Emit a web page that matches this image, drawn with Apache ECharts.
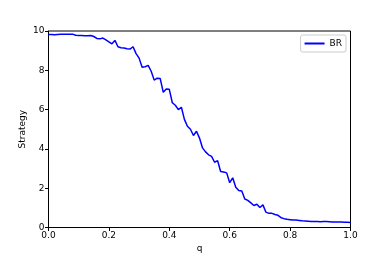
<!DOCTYPE html>
<html><head><meta charset="utf-8">
<script src="https://cdn.jsdelivr.net/npm/echarts@6/dist/echarts.min.js"></script>
<style>html,body{margin:0;padding:0;background:#fff}#c{width:390px;height:260px}</style>
</head><body><div id="c"></div>
<script>
const qValues = [0.00,0.01,0.02,0.03,0.04,0.05,0.06,0.07,0.08,0.09,0.10,0.11,0.12,0.13,0.14,0.15,0.16,0.17,0.18,0.19,0.20,0.21,0.22,0.23,0.24,0.25,0.26,0.27,0.28,0.29,0.30,0.31,0.32,0.33,0.34,0.35,0.36,0.37,0.38,0.39,0.40,0.41,0.42,0.43,0.44,0.45,0.46,0.47,0.48,0.49,0.50,0.51,0.52,0.53,0.54,0.55,0.56,0.57,0.58,0.59,0.60,0.61,0.62,0.63,0.64,0.65,0.66,0.67,0.68,0.69,0.70,0.71,0.72,0.73,0.74,0.75,0.76,0.77,0.78,0.79,0.80,0.81,0.82,0.83,0.84,0.85,0.86,0.87,0.88,0.89,0.90,0.91,0.92,0.93,0.94,0.95,0.96,0.97,0.98,0.99,1.00];
const brValues = [9.82,9.82,9.81,9.82,9.83,9.83,9.83,9.84,9.84,9.78,9.77,9.77,9.76,9.76,9.77,9.72,9.62,9.60,9.64,9.55,9.45,9.35,9.52,9.20,9.15,9.13,9.10,9.08,9.20,8.85,8.62,8.15,8.18,8.25,7.95,7.50,7.60,7.58,6.88,7.05,7.03,6.35,6.22,6.00,6.12,5.50,5.15,5.00,4.68,4.90,4.55,4.05,3.85,3.70,3.62,3.32,3.40,2.85,2.82,2.78,2.28,2.53,2.05,1.88,1.86,1.45,1.38,1.25,1.12,1.18,1.02,1.15,0.78,0.72,0.72,0.66,0.62,0.50,0.45,0.42,0.40,0.38,0.38,0.36,0.34,0.33,0.32,0.31,0.30,0.30,0.29,0.30,0.30,0.29,0.28,0.28,0.28,0.28,0.27,0.27,0.26];
const xTicks = [0, 0.2, 0.4, 0.6, 0.8, 1.0];
const yTicks = [0, 2, 4, 6, 8, 10];
const seriesName = 'BR';

const chart = echarts.init(document.getElementById('c'), null, {renderer:'canvas'});
const font = 'DejaVu Sans';
chart.setOption({
  animation: false,
  backgroundColor: '#fff',
  grid: {left: 48.5, right: 39.5, top: 31, bottom: 32.5, show: true, borderColor: '#000', borderWidth: 1, backgroundColor: 'transparent'},
  legend: {
    show: true, right: 44, top: 35, orient: 'vertical',
    data: [seriesName],
    itemWidth: 20, itemHeight: 2, itemGap: 4,
    padding: [4, 4, 4, 4],
    borderColor: '#cccccc', borderWidth: 1, borderRadius: 2,
    backgroundColor: '#fff',
    icon: 'rect',
    textStyle: {fontFamily: font, fontSize: 9, color: '#000'}
  },
  xAxis: {
    type: 'value', min: 0, max: 1, interval: 0.2,
    name: 'q', nameLocation: 'middle', nameGap: 17, nameMoveOverlap: false,
    nameTextStyle: {fontFamily: font, fontSize: 9, color: '#000'},
    axisLine: {show: true, lineStyle: {color: '#000', width: 1}},
    axisTick: {show: true, inside: false, length: 3.5, lineStyle: {color: '#000'}},
    axisLabel: {fontFamily: font, fontSize: 9, color: '#000', margin: 4,
      formatter: v => (xTicks.includes(Math.round(v*10)/10) ? v.toFixed(1) : '')},
    splitLine: {show: false}
  },
  yAxis: {
    type: 'value', min: 0, max: 10, interval: 2,
    name: 'Strategy', nameLocation: 'middle', nameGap: 21, nameRotate: 90, nameMoveOverlap: false,
    nameTextStyle: {fontFamily: font, fontSize: 9, color: '#000'},
    axisLine: {show: true, lineStyle: {color: '#000', width: 1}},
    axisTick: {show: true, inside: false, length: 3.5, lineStyle: {color: '#000'}},
    axisLabel: {fontFamily: font, fontSize: 9, color: '#000', margin: 4,
      formatter: v => (yTicks.includes(v) ? String(v) : '')},
    splitLine: {show: false}
  },
  series: [{
    name: seriesName, type: 'line',
    data: qValues.map((q, i) => [q, brValues[i]]),
    showSymbol: false, symbol: 'none',
    lineStyle: {color: '#0000ff', width: 1.5},
    itemStyle: {color: '#0000ff'}
  }]
});
</script></body></html>
